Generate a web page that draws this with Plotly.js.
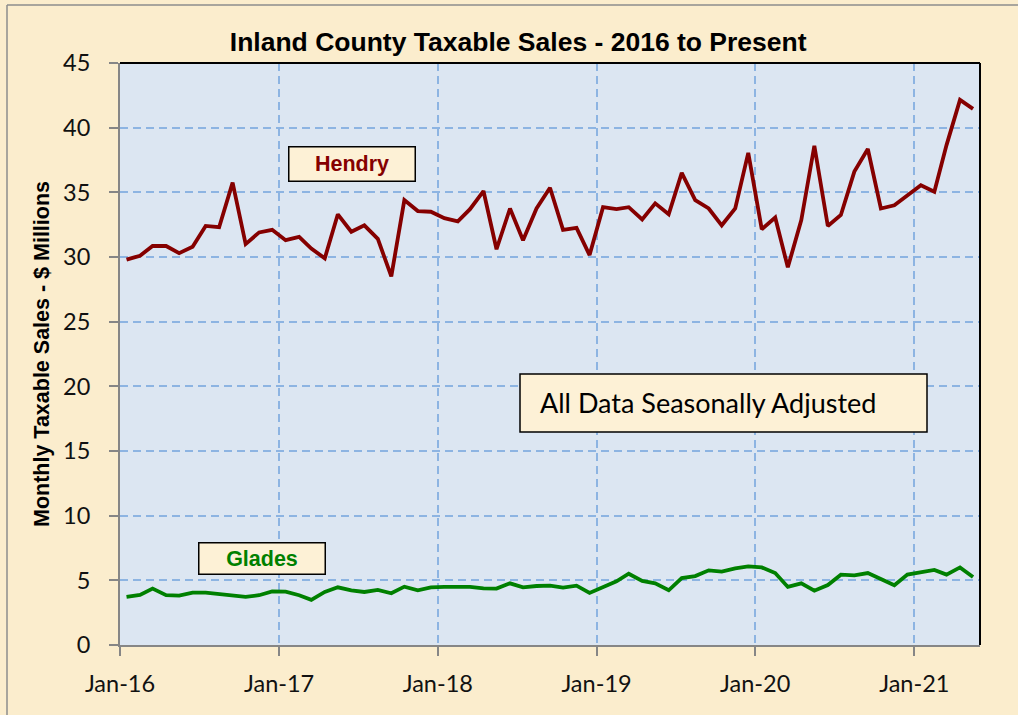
<!DOCTYPE html>
<html>
<head>
<meta charset="utf-8">
<script src="https://cdn.plot.ly/plotly-3.0.1.min.js"></script>
<style>
html,body{margin:0;padding:0;background:#FBEDCD;}
#chart{width:1018px;height:715px;}
</style>
</head>
<body>
<div id="chart"></div>
<script>
// ---- Data ----
const startYear = 2016;           // first month: Jan-2016
const monthCount = 65;            // Jan-2016 .. May-2021
const hendry = [
  29.8, 30.1, 30.85, 30.85, 30.3, 30.8, 32.4, 32.3, 35.75, 31.0, 31.9, 32.1,
  31.3, 31.55, 30.65, 29.9, 33.3, 31.95, 32.45, 31.4, 28.5, 34.4, 33.55, 33.5,
  33.0, 32.75, 33.7, 35.1, 30.6, 33.75, 31.3, 33.75, 35.35, 32.1, 32.25, 30.15,
  33.85, 33.7, 33.85, 32.9, 34.15, 33.3, 36.5, 34.4, 33.75, 32.45, 33.75, 38.05,
  32.15, 33.05, 29.2, 32.85, 38.6, 32.4, 33.25, 36.6, 38.35, 33.75, 34.0, 34.75,
  35.55, 35.05, 38.65, 42.15, 41.45
];
const glades = [
  3.72, 3.87, 4.36, 3.85, 3.82, 4.05, 4.05, 3.95, 3.82, 3.72, 3.85, 4.15,
  4.13, 3.85, 3.49, 4.1, 4.46, 4.23, 4.1, 4.26, 4.0, 4.51, 4.23, 4.46,
  4.49, 4.51, 4.49, 4.38, 4.36, 4.77, 4.46, 4.56, 4.59, 4.44, 4.59, 4.03,
  4.51, 4.92, 5.51, 4.95, 4.77, 4.23, 5.18, 5.33, 5.77, 5.67, 5.92, 6.08,
  6.0, 5.56, 4.49, 4.77, 4.2, 4.64, 5.44, 5.38, 5.56, 5.08, 4.62, 5.44,
  5.62, 5.8, 5.44, 6.0, 5.26
];
const seriesNames = ['Hendry', 'Glades'];
const chartTitle = 'Inland County Taxable Sales - 2016 to Present';
const yTitle = 'Monthly Taxable Sales - $ Millions';
const noteText = 'All Data Seasonally Adjusted';

// month positions (mid-month, category centred between Jan ticks)
function pad(n){ return (n < 10 ? '0' : '') + n; }
const months = [];
for (let i = 0; i < monthCount; i++) {
  const y = startYear + Math.floor(i / 12);
  const m = (i % 12) + 1;
  months.push(y + '-' + pad(m) + '-16');
}
const xStart = startYear + '-01-01';
const xEnd = (startYear + Math.floor(monthCount / 12)) + '-' + pad((monthCount % 12) + 1) + '-01';

const traces = [
  { x: months, y: hendry, name: seriesNames[0], type: 'scatter', mode: 'lines',
    line: { color: '#850000', width: 3.8 }, hoverinfo: 'x+y' },
  { x: months, y: glades, name: seriesNames[1], type: 'scatter', mode: 'lines',
    line: { color: '#008000', width: 3.8 }, hoverinfo: 'x+y' }
];

const tickFont = { family: 'Lato, "Open Sans", sans-serif', size: 23.5, color: '#111' };
const boxFill = '#FDF1D6';
const arialBold = '"Liberation Sans", Arial, sans-serif';

const layout = {
  width: 1018, height: 715,
  margin: { l: 120, r: 38, t: 63, b: 70 },
  paper_bgcolor: '#FBEDCD',
  plot_bgcolor: '#DCE6F2',
  showlegend: false,
  title: {
    text: chartTitle,
    font: { family: arialBold, size: 26.5, color: '#000', weight: 'bold' },
    xref: 'paper', x: 0.463, xanchor: 'center',
    yref: 'container', y: 1 - 42 / 715, yanchor: 'middle'
  },
  xaxis: {
    type: 'date',
    range: [xStart, xEnd],
    tick0: xStart, dtick: 'M12', tickformat: '%b-%y',
    ticks: 'outside', ticklen: 9, tickwidth: 2, tickcolor: '#868686',
    showline: true, linecolor: '#868686', linewidth: 2,
    showgrid: true, gridcolor: '#8DB4E2', gridwidth: 2, griddash: '8px,5px',
    tickfont: tickFont, ticklabelstandoff: 8,
    zeroline: false, fixedrange: true
  },
  yaxis: {
    range: [0, 45], dtick: 5, tick0: 0,
    ticks: 'outside', ticklen: 9, tickwidth: 2, tickcolor: '#868686',
    showline: true, linecolor: '#868686', linewidth: 2,
    showgrid: true, gridcolor: '#8DB4E2', gridwidth: 2, griddash: '8px,5px',
    tickfont: tickFont, ticklabelstandoff: 14,
    zeroline: false, fixedrange: true,
    title: {
      text: yTitle, standoff: 8,
      font: { family: arialBold, size: 21.5, color: '#000', weight: 'bold' }
    }
  },
  shapes: [
    // top and right plot border (black)
    { type: 'line', xref: 'paper', yref: 'paper', x0: 0, x1: 1, y0: 1, y1: 1,
      line: { color: '#000', width: 2 }, layer: 'above' },
    { type: 'line', xref: 'paper', yref: 'paper', x0: 1, x1: 1, y0: 0, y1: 1,
      line: { color: '#000', width: 2 }, layer: 'above' },
    // outer chart frame (left & top visible)
    { type: 'line', xref: 'paper', yref: 'paper', x0: -113 / 860, x1: -113 / 860, y0: -0.2, y1: 640 / 582,
      line: { color: '#8C8C8C', width: 1.5 } },
    { type: 'line', xref: 'paper', yref: 'paper', x0: -113 / 860, x1: 1.1, y0: 640 / 582, y1: 640 / 582,
      line: { color: '#8C8C8C', width: 1.5 } },
    // note box
    { type: 'rect', xref: 'paper', yref: 'paper',
      x0: 400 / 860, x1: 807 / 860, y0: 213 / 582, y1: 271 / 582,
      fillcolor: boxFill, line: { color: '#000', width: 1.5 }, layer: 'above' }
  ],
  annotations: [
    { text: '<b>' + seriesNames[0] + '</b>', xref: 'paper', yref: 'paper',
      x: 232 / 860, y: 481 / 582, xanchor: 'center', yanchor: 'middle', showarrow: false,
      font: { family: arialBold, size: 21.5, color: '#850000' },
      bgcolor: boxFill, bordercolor: '#000', borderwidth: 1.5, borderpad: 3,
      width: 119, height: 27 },
    { text: '<b>' + seriesNames[1] + '</b>', xref: 'paper', yref: 'paper',
      x: 142 / 860, y: 86.5 / 582, xanchor: 'center', yanchor: 'middle', showarrow: false,
      font: { family: arialBold, size: 21.5, color: '#008000' },
      bgcolor: boxFill, bordercolor: '#000', borderwidth: 1.5, borderpad: 3,
      width: 119, height: 24 },
    { text: noteText, xref: 'paper', yref: 'paper',
      x: 418 / 860, y: 242 / 582, xanchor: 'left', yanchor: 'middle', showarrow: false,
      font: { family: 'Lato, "Open Sans", sans-serif', size: 27, color: '#000' } }
  ]
};

Plotly.newPlot('chart', traces, layout, { displayModeBar: false, staticPlot: true });
</script>
</body>
</html>
